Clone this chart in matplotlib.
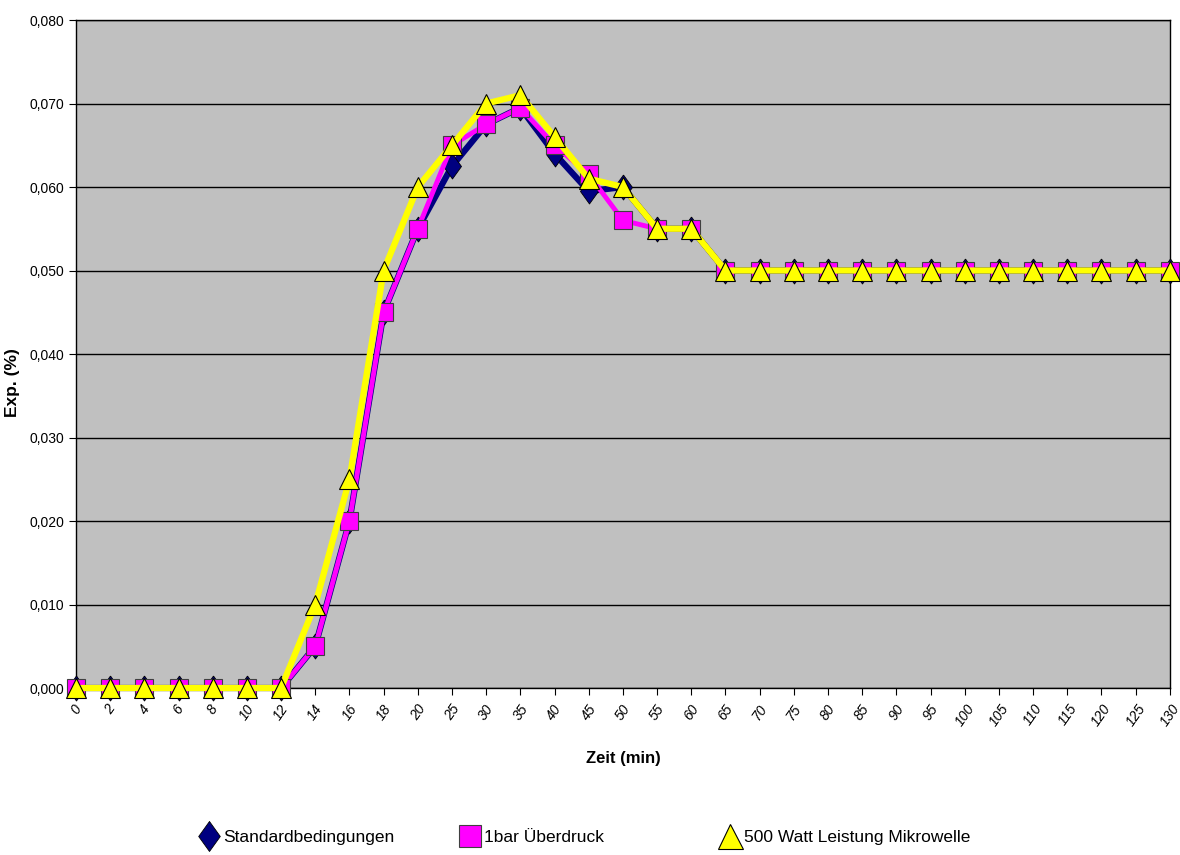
import matplotlib.pyplot as plt
import numpy as np
from matplotlib.ticker import FuncFormatter

plt.rcParams['font.family'] = ['Liberation Sans', 'DejaVu Sans']

# Zeit (min) categories
zeit = ["0", "2", "4", "6", "8", "10", "12", "14", "16", "18", "20",
        "25", "30", "35", "40", "45", "50", "55", "60", "65", "70", "75",
        "80", "85", "90", "95", "100", "105", "110", "115", "120", "125", "130"]

# Exp. (%) values
standard = [0, 0, 0, 0, 0, 0, 0, 0.005, 0.020, 0.045, 0.055,
            0.0625, 0.0675, 0.0695, 0.064, 0.0595, 0.060, 0.055, 0.055] + [0.050] * 14
ueberdruck = [0, 0, 0, 0, 0, 0, 0, 0.005, 0.020, 0.045, 0.055,
              0.065, 0.0675, 0.0695, 0.065, 0.0615, 0.056, 0.055, 0.055] + [0.050] * 14
mikrowelle = [0, 0, 0, 0, 0, 0, 0, 0.010, 0.025, 0.050, 0.060,
              0.065, 0.070, 0.071, 0.066, 0.061, 0.060, 0.055, 0.055] + [0.050] * 14

x = np.arange(len(zeit))

fig = plt.figure(figsize=(11.8, 8.55), dpi=100)
ax = fig.add_axes([0.0644, 0.1953, 0.927, 0.7813])
ax.set_facecolor("#c0c0c0")

diamond = [(0, 1), (0.72, 0), (0, -1), (-0.72, 0), (0, 1)]
l1, = ax.plot(x, standard, color="#000080", lw=4.5, marker=diamond, ms=18,
              mfc="#000080", mec="black", mew=0.6, label="Standardbedingungen",
              zorder=3, clip_on=False)
l2, = ax.plot(x, ueberdruck, color="#ff00ff", lw=3.5, marker="s", ms=13,
              mfc="#ff00ff", mec="#404040", mew=0.8, label="1bar Überdruck",
              zorder=4, clip_on=False)
l3, = ax.plot(x, mikrowelle, color="#ffff00", lw=4.5, marker="^", ms=15,
              mfc="#ffff00", mec="black", mew=0.8, label="500 Watt Leistung Mikrowelle",
              zorder=5, clip_on=False)

ax.set_xlim(0, len(zeit) - 1)
ax.set_ylim(0, 0.080)
ax.set_yticks(np.arange(0, 0.081, 0.010))
ax.yaxis.set_major_formatter(FuncFormatter(lambda v, p: f"{v:.3f}".replace(".", ",")))
ax.set_xticks(x)
ax.set_xticklabels(zeit, rotation=55, ha="center", fontsize=10, style="italic")
ax.tick_params(axis="y", labelsize=10, length=5, direction="out")
ax.tick_params(axis="x", length=5, direction="out", pad=5)

ax.grid(True, axis="y", color="black", lw=1)
ax.set_axisbelow(True)
for s in ax.spines.values():
    s.set_color("black")
    s.set_linewidth(1)

ax.set_xlabel("Zeit (min)", fontsize=12, fontweight="bold", labelpad=16)
ax.set_ylabel("Exp. (%)", fontsize=12.5, fontweight="bold")
ax.yaxis.set_label_coords(-0.051, 0.457)

# one legend per entry, placed like the original's evenly spaced entries
for line, xpos in zip([l1, l2, l3], [0.170, 0.391, 0.611]):
    leg = fig.legend([line], [line.get_label()], loc="center left",
                     bbox_to_anchor=(xpos, 0.02), frameon=False, fontsize=12.5,
                     handlelength=1.0, handletextpad=0.3, markerscale=1.2,
                     borderpad=0, borderaxespad=0)
    for h in leg.legend_handles:
        h.set_linestyle("none")

fig.savefig("out.png", dpi=100)
